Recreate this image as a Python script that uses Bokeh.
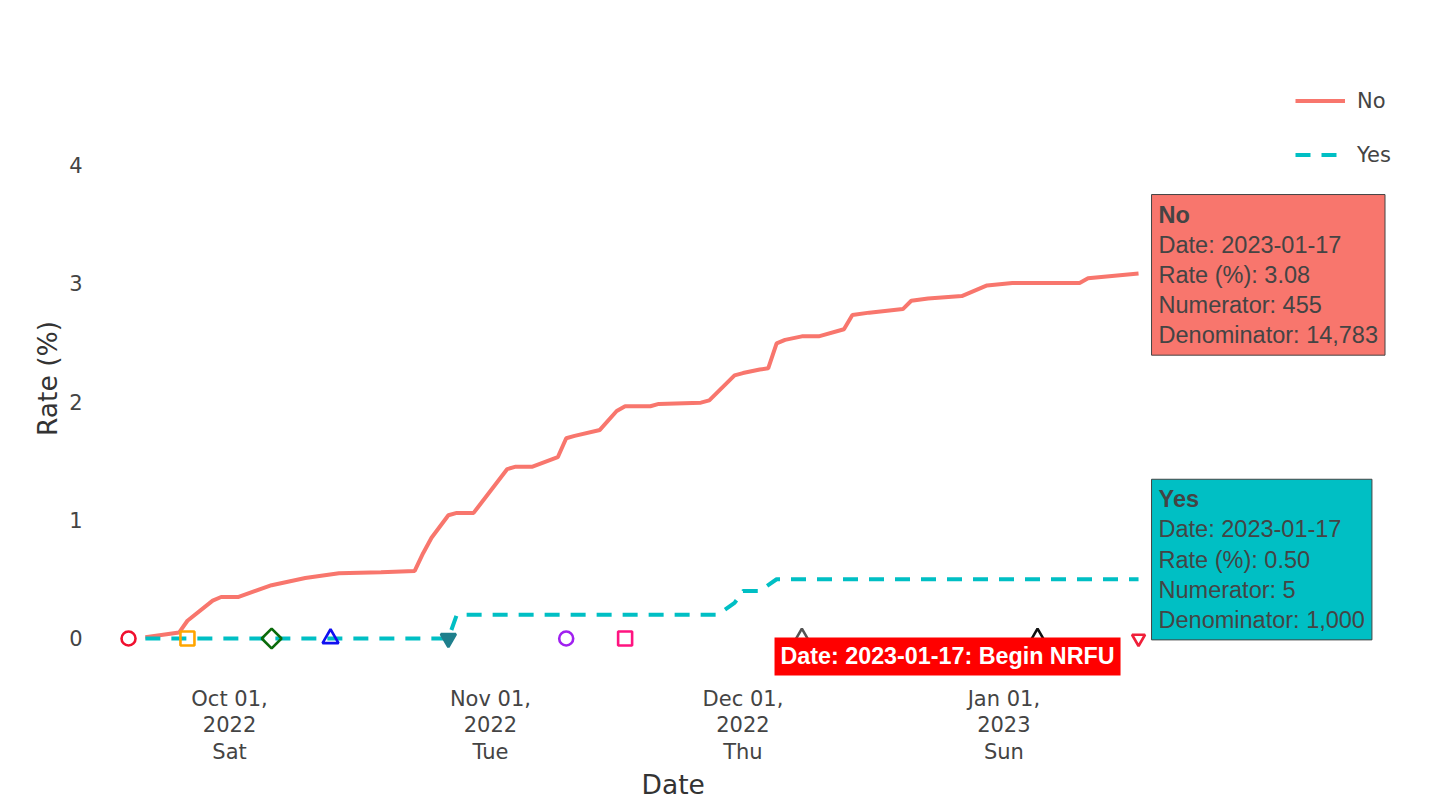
import math
import pandas as pd
from bokeh.plotting import figure
from bokeh.models import (Range1d, FixedTicker, Legend, LegendItem, Label, ColumnDataSource,
                          Title)
from bokeh.embed import file_html
from bokeh.resources import INLINE

# ---------------- data ----------------
no_dates = ["2022-09-21", "2022-09-25", "2022-09-26", "2022-09-29", "2022-09-30", "2022-10-02",
            "2022-10-06", "2022-10-10", "2022-10-14", "2022-10-19", "2022-10-23", "2022-10-24",
            "2022-10-25", "2022-10-27", "2022-10-28", "2022-10-30", "2022-11-03", "2022-11-04",
            "2022-11-06", "2022-11-09", "2022-11-10", "2022-11-11", "2022-11-14", "2022-11-16",
            "2022-11-17", "2022-11-20", "2022-11-21", "2022-11-26", "2022-11-27", "2022-11-30",
            "2022-12-01", "2022-12-03", "2022-12-04", "2022-12-05", "2022-12-06", "2022-12-08",
            "2022-12-10", "2022-12-13", "2022-12-14", "2022-12-16", "2022-12-20", "2022-12-21",
            "2022-12-23", "2022-12-27", "2022-12-30", "2023-01-02", "2023-01-10", "2023-01-11",
            "2023-01-17"]
no_rates = [0.01, 0.05, 0.15, 0.32, 0.35, 0.35,
            0.45, 0.51, 0.55, 0.56, 0.57, 0.72,
            0.85, 1.04, 1.06, 1.06, 1.43, 1.45,
            1.45, 1.53, 1.69, 1.71, 1.76, 1.92,
            1.96, 1.96, 1.98, 1.99, 2.01, 2.22,
            2.24, 2.27, 2.28, 2.49, 2.52, 2.55,
            2.55, 2.61, 2.73, 2.75, 2.78, 2.85,
            2.87, 2.89, 2.98, 3.00, 3.00, 3.04,
            3.08]

yes_dates = ["2022-09-21", "2022-10-27", "2022-10-28", "2022-11-28", "2022-11-30",
             "2022-12-01", "2022-12-03", "2022-12-05", "2023-01-17"]
yes_rates = [0.0, 0.0, 0.2, 0.2, 0.3, 0.4, 0.4, 0.5, 0.5]

no_numerator, no_denominator = 455, 14783
yes_numerator, yes_denominator = 5, 1000

event_dates = ["2022-09-19", "2022-09-26", "2022-10-06", "2022-10-13", "2022-10-27",
               "2022-11-10", "2022-11-17", "2022-12-08", "2023-01-05", "2023-01-17"]
event_values = [0, 0, 0, 0, 0, 0, 0, 0, 0, 0]
event_note = "Begin NRFU"

y_ticks = [0, 1, 2, 3, 4]
x_tick_dates = ["2022-10-01", "2022-11-01", "2022-12-01", "2023-01-01"]
x_tick_labels = ["Oct 01,\n2022\nSat", "Nov 01,\n2022\nTue", "Dec 01,\n2022\nThu", "Jan 01,\n2023\nSun"]

# ---------------- styles ----------------
event_markers = ["circle", "square", "square", "triangle", "inverted_triangle",
                 "circle", "square", "triangle", "triangle", "inverted_triangle"]
event_angles = [0, 0, math.pi / 4, 0, 0, 0, 0, 0, 0, 0]
event_sizes = [14, 14, 14, 16, 15, 14, 14, 17, 17, 13]
event_colors = ["#F0102E", "#FFA500", "#0B6B0B", "#1010F0", "#1F7F8C",
                "#A020F0", "#FF1480", "#555555", "#111111", "#F0203A"]
event_fill_alpha = [0, 0, 0, 0, 1, 0, 0, 0, 0, 0]

NO_COLOR = "#F8766D"
YES_COLOR = "#00BFC4"
AX_FONT = "DejaVu Sans"
TIP_FONT = "Liberation Sans"
DAY_MS = 86400000.0


def to_ms(dates):
    return [pd.Timestamp(d).timestamp() * 1000.0 for d in dates]


no_x = to_ms(no_dates)
yes_x = to_ms(yes_dates)
ev_x = to_ms(event_dates)
tick_x = to_ms(x_tick_dates)

x_start = min(ev_x) - 3.33 * DAY_MS
x_end = max(ev_x) + 33.5 * DAY_MS

p = figure(width=1435, height=805, x_axis_type="datetime",
           output_backend="svg", toolbar_location=None,
           x_range=Range1d(x_start, x_end), y_range=Range1d(-0.3376, 4.726),
           min_border_left=100, min_border_right=15, min_border_top=78, min_border_bottom=127)
p.outline_line_color = None
p.grid.visible = False
p.background_fill_color = "white"
p.border_fill_color = "white"

# axes
for ax in (p.xaxis[0], p.yaxis[0]):
    ax.axis_line_color = None
    ax.major_tick_line_color = None
    ax.minor_tick_line_color = None
    ax.major_tick_in = 0
    ax.major_tick_out = 0
    ax.major_label_text_font = AX_FONT
    ax.major_label_text_font_size = "21px"
    ax.major_label_text_color = "#444444"
    ax.axis_label_text_font = AX_FONT
    ax.axis_label_text_font_size = "26.5px"
    ax.axis_label_text_font_style = "normal"
    ax.axis_label_text_color = "#333333"

p.xaxis.ticker = FixedTicker(ticks=tick_x)
p.xaxis.major_label_overrides = {t: lbl for t, lbl in zip(tick_x, x_tick_labels)}
p.xaxis.major_label_text_line_height = 1.12
p.xaxis.major_label_standoff = 8

# x-axis title: centred under the original plotting area (left of the legend column)
p.add_layout(Title(text="Date", align="left", offset=541, standoff=2, vertical_align="top",
                   text_font=AX_FONT, text_font_size="26.5px", text_font_style="normal",
                   text_color="#333333"), "below")

p.yaxis.ticker = FixedTicker(ticks=y_ticks)
p.yaxis.major_label_standoff = 18
p.yaxis.axis_label = "Rate (%)"
p.yaxis.axis_label_standoff = 3

# lines
r_no = p.line(x=no_x, y=no_rates, line_color=NO_COLOR, line_width=4)
r_yes = p.line(x=yes_x, y=yes_rates, line_color=YES_COLOR, line_width=4, line_dash="15 11")

# event markers
src = ColumnDataSource(dict(x=ev_x, y=event_values, marker=event_markers, angle=event_angles,
                            size=event_sizes, color=event_colors, fa=event_fill_alpha))
p.scatter(x="x", y="y", marker="marker", size="size", angle="angle", line_color="color",
          fill_color="color", fill_alpha="fa", line_width=2.6, source=src)

# legend
legend = Legend(items=[LegendItem(label="No", renderers=[r_no]),
                       LegendItem(label="Yes", renderers=[r_yes])],
                location=(1195, 511), orientation="vertical", padding=0, margin=0,
                spacing=29, glyph_width=50, glyph_height=25, label_height=25,
                label_standoff=12, label_text_font=AX_FONT, label_text_font_size="21px",
                label_text_color="#444444", border_line_color=None, background_fill_alpha=0)
p.add_layout(legend)


# hover-like labels
def tip(x, y, name, date, rate, num, den, color, y_off):
    body = "\n".join([" ",
                      f"Date: {date}",
                      f"Rate (%): {rate:.2f}",
                      f"Numerator: {num:,}",
                      f"Denominator: {den:,}"])
    common = dict(x=x, y=y, x_offset=13, y_offset=y_off, text_align="left",
                  text_baseline="top", text_font=TIP_FONT, text_font_size="23.5px",
                  text_color="#444444", text_line_height=1.16, padding=7)
    p.add_layout(Label(text=body, background_fill_color=color, border_line_color="#444444",
                       border_line_width=1, **common))
    p.add_layout(Label(text=name, text_font_style="bold", **common))


tip(no_x[-1], no_rates[-1], "No", no_dates[-1], no_rates[-1], no_numerator, no_denominator,
    NO_COLOR, 79)
tip(yes_x[-1], yes_rates[-1], "Yes", yes_dates[-1], yes_rates[-1], yes_numerator,
    yes_denominator, YES_COLOR, 100)

p.add_layout(Label(x=ev_x[-1], y=event_values[-1], x_offset=-18, y_offset=1,
                   text=f"Date: {event_dates[-1]}: {event_note}",
                   text_align="right", text_baseline="top", text_font=TIP_FONT,
                   text_font_size="23.3px", text_font_style="bold", text_color="white",
                   background_fill_color="#FF0000", padding=6))

open("out.html", "w").write(file_html(p, INLINE))
